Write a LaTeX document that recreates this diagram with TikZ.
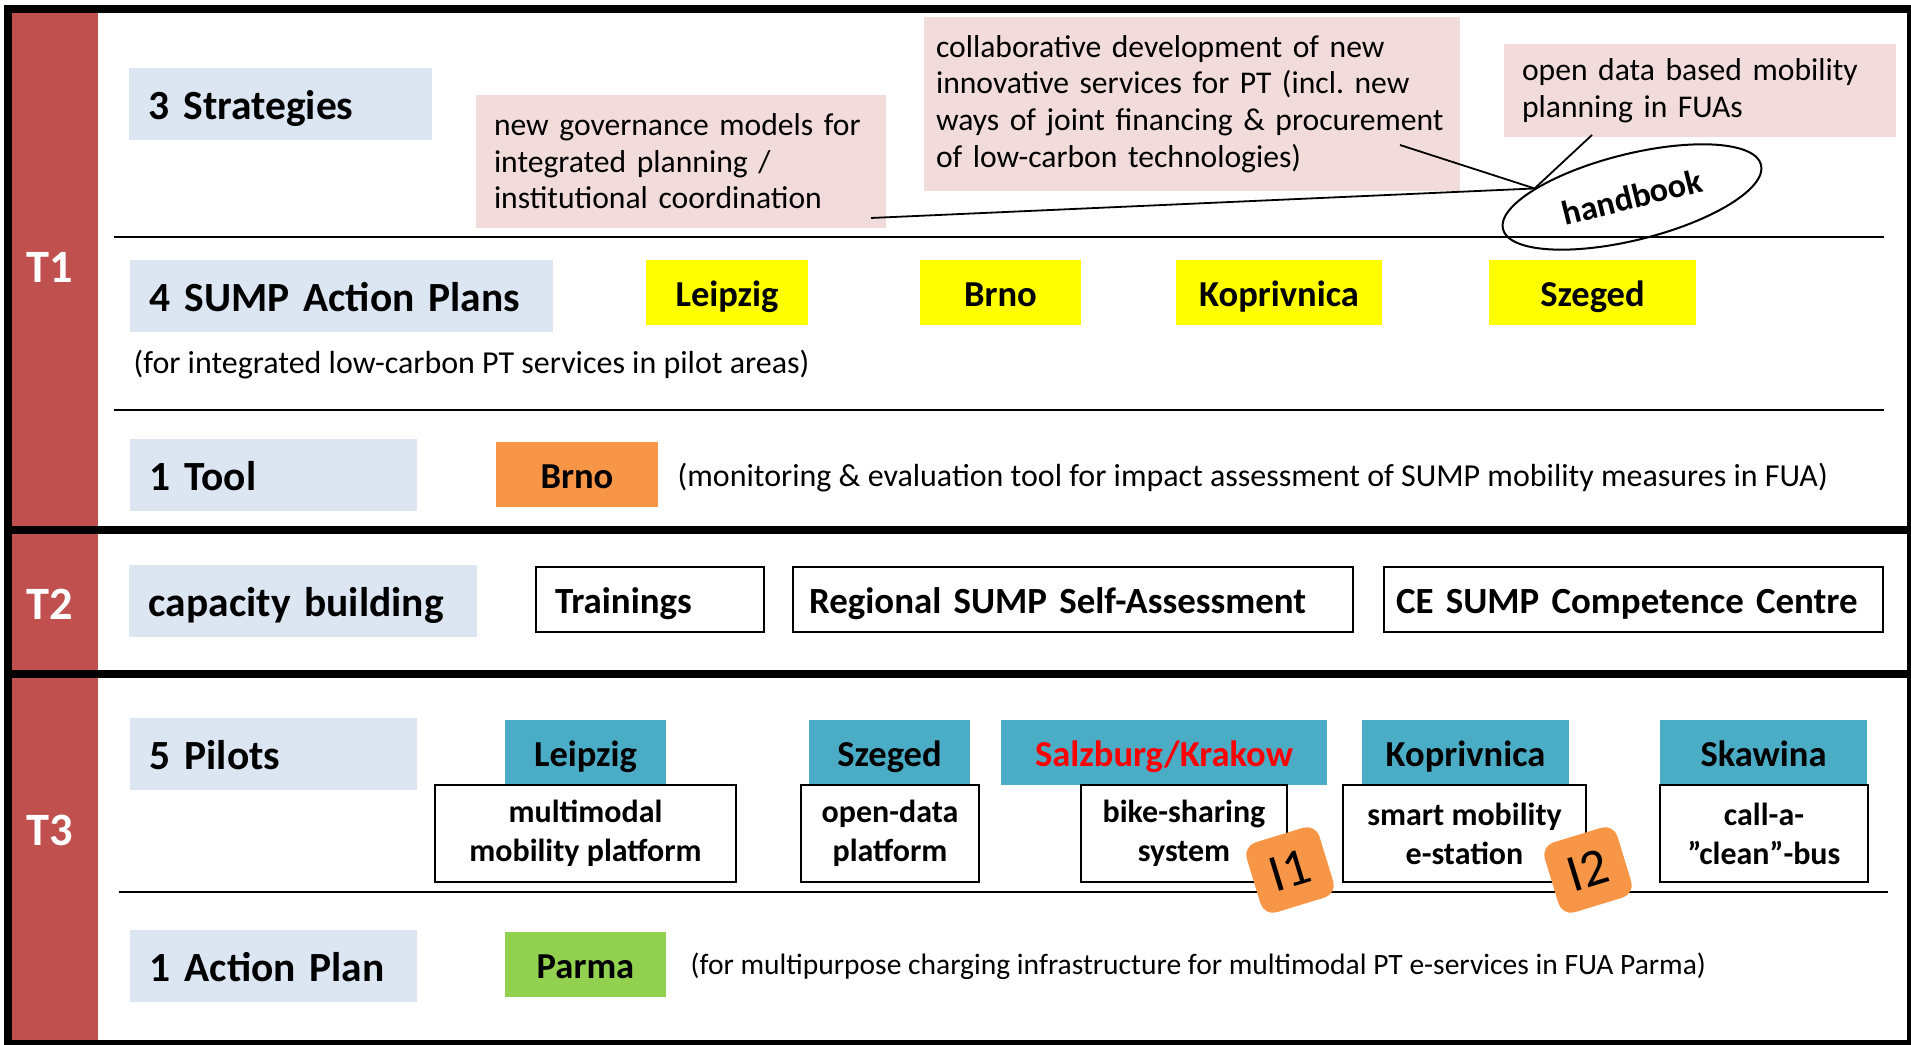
\documentclass[tikz,border=0pt]{standalone}
\usepackage{fontspec}
\setmainfont{Carlito}
\frenchspacing
\usetikzlibrary{shapes.geometric}
\definecolor{tred}{HTML}{C0504D}
\definecolor{ttlblue}{HTML}{DCE6F2}
\definecolor{notepink}{HTML}{F2DCDB}
\definecolor{sumpyellow}{HTML}{FFFF00}
\definecolor{tlorange}{HTML}{F79646}
\definecolor{piteal}{HTML}{4BACC6}
\definecolor{apgreen}{HTML}{92D050}
\tikzset{
  tlbl/.style={text=white,inner sep=0pt,font=\fontsize{13.2}{15}\selectfont\bfseries},
  ttl/.style={fill=ttlblue,anchor=west,inner xsep=2mm,inner ysep=0pt,minimum height=7.2mm,text width=#1,align=left,text height=11.2pt,text depth=2.5pt,font=\fontsize{11.8}{14}\selectfont\bfseries},
  pnote/.style={fill=notepink,inner xsep=1.8mm,inner ysep=0pt,text width=#1,align=left,font=\fontsize{9}{10.4}\selectfont},
  city/.style={minimum width=#1,minimum height=6.5mm,inner sep=0pt,text height=10pt,text depth=2.3pt,font=\fontsize{10.4}{12}\selectfont\bfseries},
  wbox/.style={draw,line width=0.2mm,fill=white,inner sep=0pt,minimum height=6.5mm,align=left,text height=10pt,text depth=2.3pt,font=\fontsize{10.5}{12}\selectfont\bfseries},
  pbox/.style={draw,line width=0.2mm,fill=white,inner sep=0pt,minimum width=#1,minimum height=9.7mm,align=center,font=\fontsize{9.1}{11.1}\selectfont\bfseries},
  rmk/.style={anchor=west,inner sep=0pt,font=\fontsize{9.1}{11}\selectfont},
  badge/.style={fill=tlorange,rounded corners=1.3mm,minimum width=7.6mm,minimum height=7.3mm,inner sep=0pt,rotate=17,font=\fontsize{15}{17}\selectfont},
  tsep/.style={line width=0.8mm},
  rowline/.style={line width=0.22mm},
  link/.style={line width=0.18mm},
}
\begin{document}
\begin{tikzpicture}[x=0.1mm,y=-0.1mm]
\useasboundingbox (0,0) rectangle (1911,1045);
\fill[white] (0,0) rectangle (1911,1045);
\fill[tred] (12,13) rectangle (98,526);
\fill[tred] (12,534) rectangle (98,670);
\fill[tred] (12,678) rectangle (98,1040);
\node[tlbl] (t1) at (50,267) {T1};
\node[tlbl] (t2) at (50,604) {T2};
\node[tlbl] (t3) at (50,830) {T3};
\draw[rowline] (114,237) -- (1884,237);
\draw[rowline] (114,410) -- (1884,410);
\draw[rowline] (119,892) -- (1888,892);

\node[ttl=26.3mm] (strat) at (128,104.5) {3 Strategies};
\node[ttl=38.3mm] (sump) at (129,296) {4 SUMP Action Plans};
\node[ttl=24.7mm] (tool) at (129,475) {1 Tool};
\node[ttl=30.8mm] (capb) at (128,601) {capacity building};
\node[ttl=24.7mm] (pilots) at (129,754) {5 Pilots};
\node[ttl=24.7mm] (aplan) at (129,966.5) {1 Action Plan};

\node[pnote=37.4mm,minimum height=13.3mm] (gov) at (681,161.5) {new governance models for\\integrated planning /\\institutional coordination};
\node[pnote=51.2mm,inner xsep=1.2mm,minimum height=17.4mm] (collab) at (1192,104) {collaborative development of new\\innovative services for PT (incl. new\\ways of joint financing \& procurement\\of low-carbon technologies)};
\node[pnote=35.6mm,minimum height=9.3mm] (opd) at (1700,90.5) {open data based mobility\\planning in FUAs};
\node[draw,ellipse,line width=0.2mm,minimum width=26.6mm,minimum height=8.6mm,inner sep=0pt,rotate=14,font=\fontsize{9.7}{11}\selectfont\bfseries] (hbk) at (1632,197) {handbook};
\coordinate (govend) at (871,218);
\coordinate (collabend) at (1400,145);
\coordinate (opdend) at (1592,135);
\draw[link] (govend) -- (hbk.161);
\draw[link] (collabend) -- (hbk.161);
\draw[link] (opdend) -- (hbk.161);

\node[city=16.2mm,fill=sumpyellow] (slei) at (727,293) {Leipzig};
\node[city=16.1mm,fill=sumpyellow] (sbrn) at (1000.5,293) {Brno};
\node[city=20.6mm,fill=sumpyellow] (skop) at (1279,293) {Koprivnica};
\node[city=20.7mm,fill=sumpyellow] (sszg) at (1592.5,293) {Szeged};
\node[rmk] (sumpnote) at (133,365) {(for integrated low-carbon PT services in pilot areas)};

\node[city=16.2mm,fill=tlorange] (tbrn) at (577,474.5) {Brno};
\node[rmk] (toolnote) at (677,478) {(monitoring \& evaluation tool for impact assessment of SUMP mobility measures in FUA)};

\node[wbox,text width=19mm,inner xsep=1.9mm] (trn) at (650,599.5) {Trainings};
\node[wbox,text width=52.8mm,inner xsep=1.6mm] (rsa) at (1073,599.5) {Regional SUMP Self-Assessment};
\node[wbox,text width=47.5mm,inner xsep=1.2mm] (cecc) at (1633.5,599.5) {CE SUMP Competence Centre};

\node[city=16.1mm,fill=piteal] (plei) at (585.5,752.5) {Leipzig};
\node[city=16.1mm,fill=piteal] (pszg) at (889.5,752.5) {Szeged};
\node[city=32.6mm,fill=piteal,text=red] (psal) at (1164,752.5) {Salzburg/Krakow};
\node[city=20.7mm,fill=piteal] (pkop) at (1465.5,752.5) {Koprivnica};
\node[city=20.7mm,fill=piteal] (pska) at (1763.5,752.5) {Skawina};
\node[pbox=30.1mm] (mmp) at (585.5,833.5) {multimodal\\mobility platform};
\node[pbox=17.8mm] (odp) at (890,833.5) {open-data\\platform};
\node[pbox=20.6mm] (bss) at (1184,833.5) {bike-sharing\\system};
\node[pbox=24.3mm] (sme) at (1464.5,833.5) {smart mobility\\e-station};
\node[pbox=20.8mm] (cab) at (1764,833.5) {call-a-\\”clean”-bus};

\node[city=16.1mm,fill=apgreen] (parma) at (585.5,964.5) {Parma};
\node[rmk,font=\fontsize{8.4}{10}\selectfont] (apnote) at (690,966) {(for multipurpose charging infrastructure for multimodal PT e-services in FUA Parma)};

\node[badge] (i1) at (1290,870) {I1};
\node[badge] (i2) at (1588,870) {I2};

\draw[line width=0.8mm] (4,9) -- (1911,9);
\draw[line width=0.8mm] (8,5) -- (8,1045);
\draw[line width=0.5mm] (4,1042.5) -- (1911,1042.5);
\draw[line width=0.4mm] (1909,5) -- (1909,1045);
\draw[tsep] (4,530) -- (1911,530);
\draw[tsep] (4,674) -- (1911,674);
\end{tikzpicture}
\end{document}
